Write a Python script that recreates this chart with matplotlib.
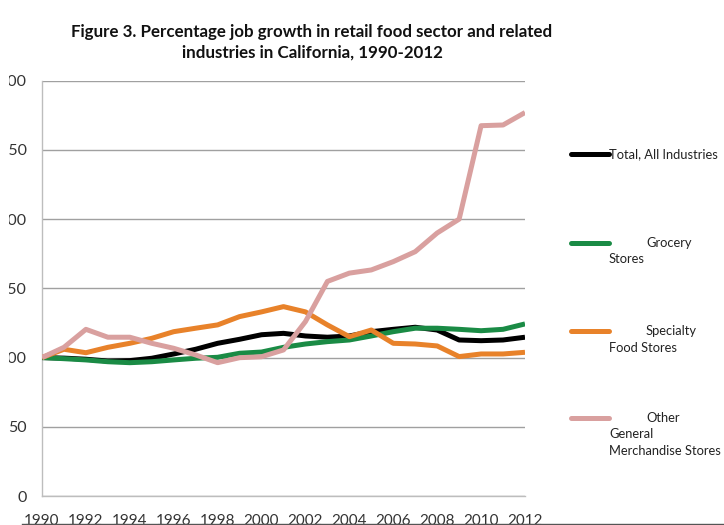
import matplotlib.pyplot as plt
from matplotlib.lines import Line2D
from matplotlib.transforms import Bbox, TransformedBbox

years = list(range(1990, 2013))

total_all = [100, 99.6, 98.8, 97.5, 97.8, 99.5, 102.6, 106, 110.3, 113.2, 116.5,
             117.5, 115.6, 114.7, 115.6, 118.7, 120.4, 121.9, 119.9, 112.7, 112.2,
             112.7, 114.7]
grocery = [100, 99.2, 98.3, 97, 96.3, 97, 98.3, 99.5, 100.2, 103.1, 104,
           107.4, 109.8, 111.5, 112.7, 115.6, 118.7, 121.2, 121.2, 120.4, 119.4,
           120.4, 124.3]
specialty = [100, 106, 103.5, 107.4, 110.3, 113.9, 118.7, 121.2, 123.6, 129.6, 133,
             136.8, 133, 123.6, 115.1, 119.9, 110.3, 109.8, 108.4, 100.7, 102.6,
             102.6, 103.8]
other_general = [100, 107.4, 120.4, 114.7, 114.7, 110.3, 106.7, 101.9, 96.3, 99.9, 100.6,
                 105.5, 126, 155, 161, 163.3, 169.3, 176.5, 190, 200, 267.5,
                 268, 277]

series_names = ['Total, All Industries', 'Grocery\nStores', 'Specialty\nFood Stores',
                'Other\nGeneral\nMerchandise Stores']
colors = ['#000000', '#1a8b45', '#e8822a', '#d9a09f']

W, H = 724, 525
plt.rcParams['font.family'] = ['Lato', 'DejaVu Sans']
fig = plt.figure(figsize=(W / 100, H / 100), dpi=100)

ax = fig.add_axes([42 / W, 29 / H, 483 / W, 415.3 / H])
for vals, c in zip([total_all, grocery, specialty, other_general], colors):
    ax.plot(years, vals, color=c, lw=3.6, solid_capstyle='butt', zorder=3)

ax.set_xlim(1990, 2012)
ax.set_ylim(0, 300)
ax.set_yticks(range(0, 301, 50))
ax.set_xticks(range(1990, 2013, 2))
ax.grid(axis='y', color='#a0a0a0', lw=1)
ax.set_axisbelow(True)
for side in ['top', 'right']:
    ax.spines[side].set_visible(False)
for side in ['left', 'bottom']:
    ax.spines[side].set_color('#bdbdbd')
    ax.spines[side].set_linewidth(1)
ax.tick_params(length=0, labelsize=11.5, colors='#333333')
ax.tick_params(axis='x', labelsize=11)
ax.tick_params(axis='y', pad=11)
ax.tick_params(axis='x', pad=13)

# y labels run off the left edge of the sheet
fig.canvas.draw()
clip = TransformedBbox(Bbox([[9 / W, 0], [1, 1]]), fig.transFigure)
for lbl in ax.get_yticklabels():
    lbl.set_clip_box(clip)
    lbl.set_clip_on(True)

# legend drawn by hand on the right
legend_rows = [154, 243, 331, 418]
for name, c, ypix in zip(series_names, colors, legend_rows):
    fy = 1 - ypix / H
    fig.add_artist(Line2D([571 / W, 609 / W], [fy, fy], color=c, lw=3.6,
                          solid_capstyle='round'))
    lines = name.split('\n')
    if len(lines) == 1:
        fig.text(609 / W, fy, lines[0], fontsize=9.3, va='center', ha='left', color='#222222')
    else:
        fig.text(646 / W, fy, lines[0], fontsize=9.3, va='center', ha='left', color='#222222')
        for i, part in enumerate(lines[1:]):
            fig.text(609 / W, 1 - (ypix + 16.5 * (i + 1)) / H, part, fontsize=9.3,
                     va='center', ha='left', color='#222222')

fig.text(312 / W, 1 - 32 / H,
         'Figure 3. Percentage job growth in retail food sector and related',
         fontsize=12.2, fontweight='bold', ha='center', va='center', color='#111111')
fig.text(312 / W, 1 - 53 / H, 'industries in California, 1990-2012',
         fontsize=12.2, fontweight='bold', ha='center', va='center', color='#111111')

# frame edge along the bottom
fig.add_artist(Line2D([22 / W, 1], [1.5 / H, 1.5 / H], color='#555555', lw=1))

fig.savefig('out.png', dpi=100)
